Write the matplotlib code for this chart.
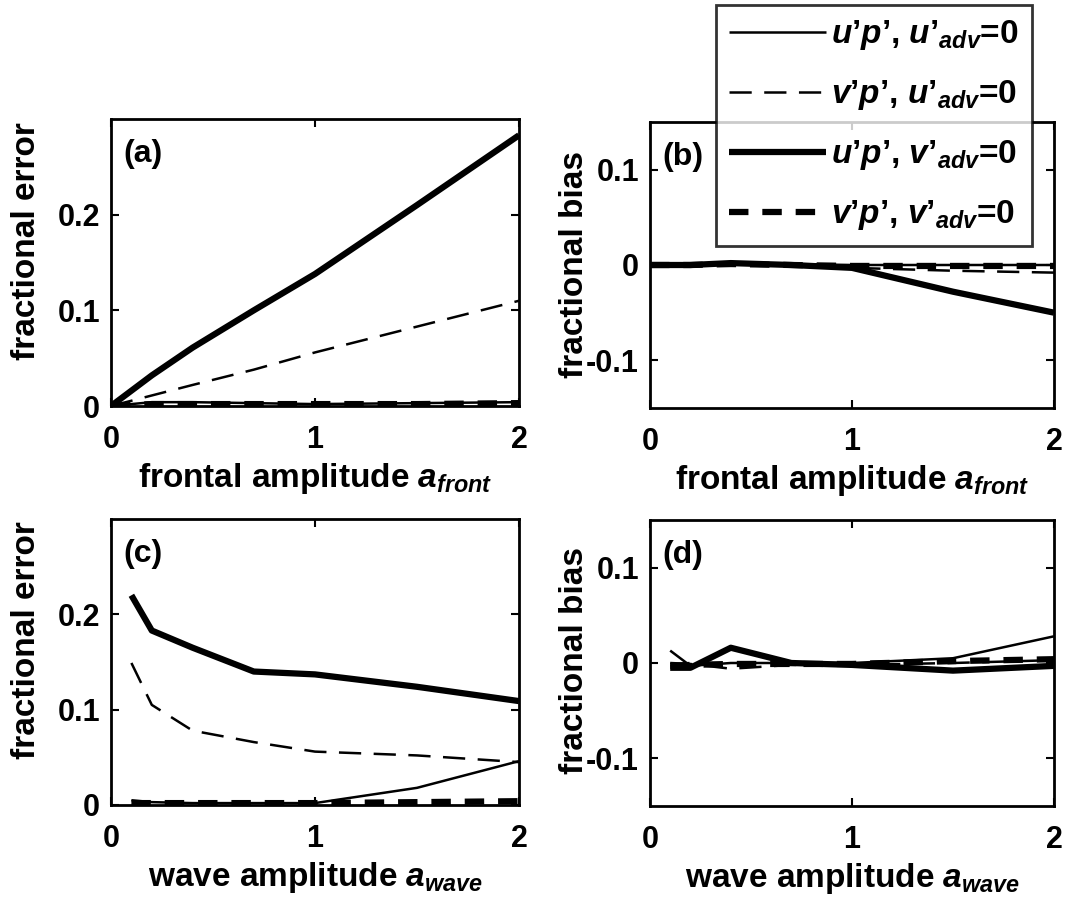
import numpy as np
import matplotlib
matplotlib.use("Agg")
import matplotlib.pyplot as plt

plt.rcParams['font.family'] = ['Liberation Sans', 'DejaVu Sans']
plt.rcParams['font.weight'] = 'bold'
plt.rcParams['mathtext.fontset'] = 'custom'
plt.rcParams['mathtext.it'] = 'Liberation Sans:italic:bold'
plt.rcParams['mathtext.rm'] = 'Liberation Sans:bold'
plt.rcParams['mathtext.bf'] = 'Liberation Sans:bold'
plt.rcParams['lines.scale_dashes'] = False

# frontal amplitude runs
x_front = [0, 0.2, 0.4, 0.7, 1.0, 1.5, 2.0]
err_up_u_front = [0, 0.004, 0.004, 0.003, 0.002, 0.003, 0.004]
err_vp_u_front = [0, 0.011, 0.022, 0.038, 0.056, 0.083, 0.110]
err_up_v_front = [0, 0.032, 0.061, 0.100, 0.138, 0.210, 0.283]
err_vp_v_front = [0, 0.002, 0.002, 0.002, 0.002, 0.002, 0.003]

bias_up_u_front = [0, 0.001, 0.002, 0.001, 0.0, 0.0, 0.0]
bias_vp_u_front = [0, 0.0, 0.001, -0.001, -0.003, -0.006, -0.008]
bias_up_v_front = [0, 0.0, 0.002, 0.0, -0.003, -0.028, -0.050]
bias_vp_v_front = [0, 0.0, 0.001, 0.0, -0.001, -0.001, -0.001]

# wave amplitude runs
x_wave = [0.1, 0.2, 0.4, 0.7, 1.0, 1.5, 2.0]
err_up_u_wave = [0.005, 0.003, 0.002, 0.002, 0.002, 0.018, 0.046]
err_vp_u_wave = [0.149, 0.105, 0.078, 0.066, 0.056, 0.052, 0.045]
err_up_v_wave = [0.220, 0.183, 0.165, 0.140, 0.137, 0.124, 0.109]
err_vp_v_wave = [0.002, 0.002, 0.002, 0.002, 0.002, 0.003, 0.004]

bias_up_u_wave = [0.013, -0.003, 0.000, 0.000, 0.000, 0.005, 0.028]
bias_vp_u_wave = [0.000, -0.001, -0.006, -0.002, -0.002, 0.000, 0.003]
bias_up_v_wave = [-0.005, -0.005, 0.016, 0.000, -0.002, -0.008, -0.003]
bias_vp_v_wave = [-0.003, -0.002, -0.001, -0.001, -0.001, 0.002, 0.004]

labels = [r"$u’p’$, $u’_{adv}$=0", r"$v’p’$, $u’_{adv}$=0",
          r"$u’p’$, $v’_{adv}$=0", r"$v’p’$, $v’_{adv}$=0"]

W, H = 1069, 906
FS = 24      # labels, legend, panel tags
TFS = 22     # tick labels


def axes_at(fig, l, r, t, b):
    return fig.add_axes([l / W, 1 - b / H, (r - l) / W, (b - t) / H])


def draw_panel(ax, x, ys, tag, xlab, ylab, ylim, yticks, ylab_xy):
    styles = [dict(lw=1.8, ls='-'),
              dict(lw=1.8, ls=(0, (16, 9))),
              dict(lw=4.5, ls='-'),
              dict(lw=4.5, ls=(0, (14, 10)))]
    lines = []
    for y, st in zip(ys, styles):
        ln, = ax.plot(x, y, color='k', solid_capstyle='butt',
                      dash_capstyle='butt', **st)
        lines.append(ln)
    ax.set_xlim(0, 2)
    ax.set_ylim(*ylim)
    ax.set_xticks([0, 1, 2])
    ax.set_xticklabels(['0', '1', '2'])
    ax.set_yticks(yticks)
    ax.set_yticklabels([('%g' % v) for v in yticks])
    ax.tick_params(direction='in', length=6, width=1.5, labelsize=TFS,
                   top=True, right=True)
    ax.tick_params(axis='x', pad=14)
    ax.tick_params(axis='y', pad=8)
    for s in ax.spines.values():
        s.set_linewidth(2)
    ax.set_xlabel(xlab, fontsize=FS, fontweight='bold', labelpad=4)
    ax.set_ylabel(ylab, fontsize=FS, fontweight='bold')
    ax.yaxis.set_label_coords(*ylab_xy)
    ax.text(0.03, 0.93, tag, transform=ax.transAxes, fontsize=FS - 1,
            fontweight='bold', va='top', ha='left')
    return lines


def main():
    fig = plt.figure(figsize=(W / 100, H / 100), dpi=100)

    ax_a = axes_at(fig, 111, 519, 119, 406)
    ax_b = axes_at(fig, 650, 1054, 122, 408)
    ax_c = axes_at(fig, 111, 519, 519, 805)
    ax_d = axes_at(fig, 650, 1054, 520, 806)

    lab_front = r"frontal amplitude $a_{front}$"
    lab_wave = r"wave amplitude $a_{wave}$"

    lines = draw_panel(ax_a, x_front,
                       [err_up_u_front, err_vp_u_front, err_up_v_front, err_vp_v_front],
                       '(a)', lab_front, 'fractional error', (0, 0.3), [0, 0.1, 0.2],
                       (-0.17, 0.575))
    draw_panel(ax_b, x_front,
               [bias_up_u_front, bias_vp_u_front, bias_up_v_front, bias_vp_v_front],
               '(b)', lab_front, 'fractional bias', (-0.15, 0.15), [-0.1, 0, 0.1],
               (-0.148, 0.5))
    draw_panel(ax_c, x_wave,
               [err_up_u_wave, err_vp_u_wave, err_up_v_wave, err_vp_v_wave],
               '(c)', lab_wave, 'fractional error', (0, 0.3), [0, 0.1, 0.2],
               (-0.17, 0.575))
    draw_panel(ax_d, x_wave,
               [bias_up_u_wave, bias_vp_u_wave, bias_up_v_wave, bias_vp_v_wave],
               '(d)', lab_wave, 'fractional bias', (-0.15, 0.15), [-0.1, 0, 0.1],
               (-0.148, 0.51))

    leg = fig.legend(lines, labels, loc='upper left',
                     bbox_to_anchor=(716 / W, 1 - 5 / H),
                     fontsize=FS, frameon=True, fancybox=False,
                     handlelength=2.9, handletextpad=0.15,
                     labelspacing=0.78, borderpad=0.4,
                     borderaxespad=0)
    leg.get_frame().set_edgecolor('k')
    leg.get_frame().set_linewidth(2)
    leg.set_zorder(10)

    fig.savefig('out.png', dpi=100)


if __name__ == "__main__":
    main()
